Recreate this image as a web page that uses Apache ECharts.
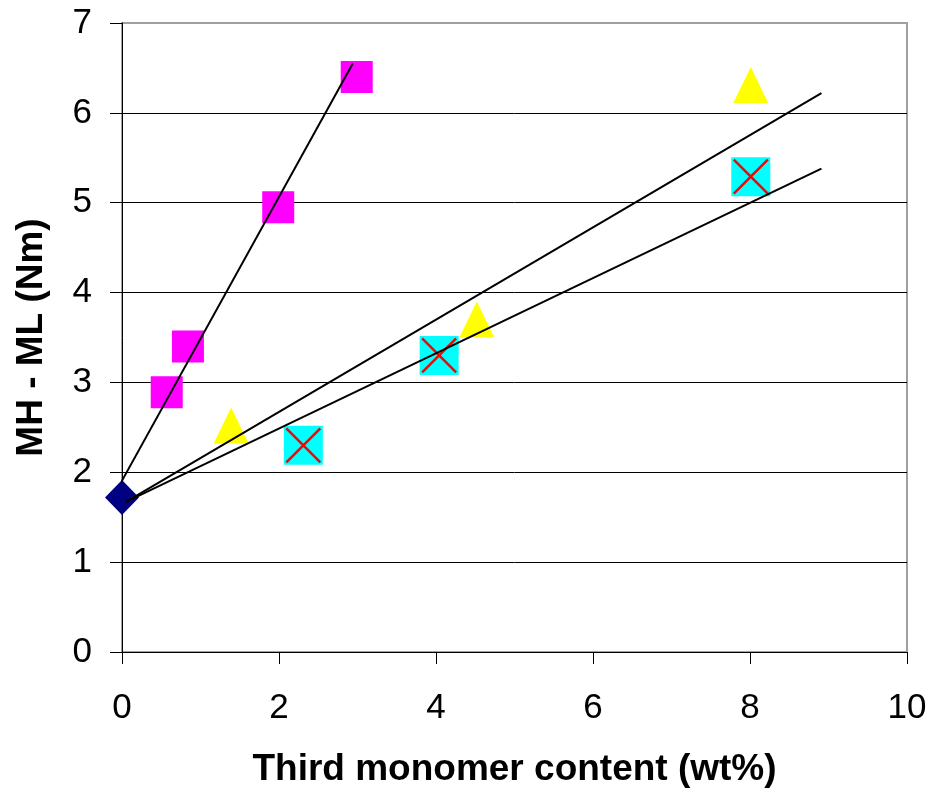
<!DOCTYPE html>
<html>
<head>
<meta charset="utf-8">
<script src="https://cdn.jsdelivr.net/npm/echarts@6/dist/echarts.min.js"></script>
<style>html,body{margin:0;padding:0;background:#fff;}#c{width:931px;height:789px;}</style>
</head>
<body>
<div id="c"></div>
<script>
// Data
const xTicks = [0, 2, 4, 6, 8, 10];
const yTicks = [0, 1, 2, 3, 4, 5, 6, 7];
const magentaX = [0.57, 0.84, 1.99, 2.99];
const magentaY = [2.89, 3.40, 4.95, 6.40];
const yellowX = [1.39, 4.52, 8.01];
const yellowY = [2.52, 3.70, 6.31];
const cyanX = [2.31, 4.04, 8.01];
const cyanY = [2.30, 3.30, 5.29];
const baseX = [0];
const baseY = [1.72];
const trendAX = [-0.15, 2.94];
const trendAY = [1.67, 6.55];
const trendBX = [0.05, 8.91];
const trendBY = [1.67, 6.22];
const trendCX = [0.05, 8.91];
const trendCY = [1.67, 5.38];

const pairs = (xs, ys) => xs.map((x, i) => [x, ys[i]]);
const FONT = '"Liberation Sans", Arial, sans-serif';

const chart = echarts.init(document.getElementById('c'), null, {renderer: 'canvas'});
const trendLine = (xs, ys) => ({
  type: 'line', data: pairs(xs, ys), symbol: 'none', clip: false, z: 5,
  lineStyle: {color: '#000', width: 2}, silent: true
});
chart.setOption({
  animation: false,
  backgroundColor: '#fff',
  grid: {left: 122, right: 24, top: 23, bottom: 137, show: true,
         outerBoundsMode: 'none', containLabel: false,
         borderColor: '#a0a0a0', borderWidth: 2, backgroundColor: 'transparent'},
  xAxis: {
    type: 'value', min: xTicks[0], max: xTicks[xTicks.length - 1], interval: 2,
    axisLine: {show: true, onZero: false, lineStyle: {color: '#000', width: 1}},
    axisTick: {show: true, inside: false, length: 12, lineStyle: {color: '#000'}},
    axisLabel: {color: '#000', fontSize: 35, fontFamily: FONT, margin: 39},
    splitLine: {show: false},
    name: 'Third monomer content (wt%)', nameLocation: 'middle', nameGap: 99,
    nameTextStyle: {color: '#000', fontSize: 37, fontWeight: 'bold', fontFamily: FONT}
  },
  yAxis: {
    type: 'value', min: yTicks[0], max: yTicks[yTicks.length - 1], interval: 1,
    axisLine: {show: true, onZero: false, lineStyle: {color: '#000', width: 1}},
    axisTick: {show: true, inside: false, length: 12, lineStyle: {color: '#000'}},
    axisLabel: {color: '#000', fontSize: 35, fontFamily: FONT, margin: 30},
    splitLine: {show: true, showMaxLine: false, lineStyle: {color: '#000', width: 1}},
    name: 'MH - ML (Nm)', nameLocation: 'middle', nameGap: 72,
    nameTextStyle: {color: '#000', fontSize: 37, fontWeight: 'bold', fontFamily: FONT}
  },
  series: [
    {type: 'scatter', data: pairs(magentaX, magentaY), symbol: 'rect', symbolSize: 32,
     itemStyle: {color: '#ff00ff', opacity: 1}},
    {type: 'scatter', data: pairs(yellowX, yellowY), symbol: 'triangle', symbolSize: [35, 36],
     itemStyle: {color: '#ffff00', opacity: 1}},
    {type: 'scatter', data: pairs(cyanX, cyanY), symbol: 'rect', symbolSize: 39,
     itemStyle: {color: '#00ffff', opacity: 1}},
    {type: 'scatter', data: pairs(cyanX, cyanY), symbol: 'path://M0,0L10,10M10,0L0,10', symbolSize: 34,
     itemStyle: {color: 'none', borderColor: '#ff0000', borderWidth: 2.5, opacity: 1}},
    {type: 'scatter', data: pairs(baseX, baseY), symbol: 'diamond', symbolSize: [34, 35],
     itemStyle: {color: '#000080', opacity: 1}, clip: false},
    trendLine(trendAX, trendAY),
    trendLine(trendBX, trendBY),
    trendLine(trendCX, trendCY)
  ]
});
</script>
</body>
</html>
